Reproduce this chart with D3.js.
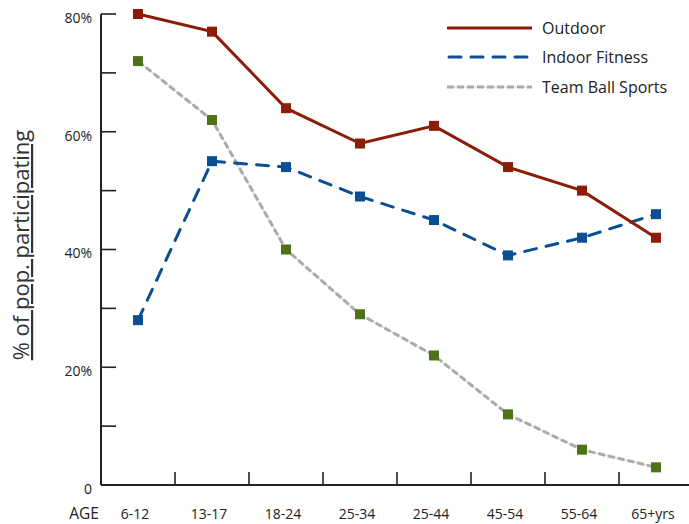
<!DOCTYPE html>
<html>
<head>
<meta charset="utf-8">
<script src="https://cdn.jsdelivr.net/npm/d3@7"></script>
<style>
  body { margin: 0; background: #fff; }
  svg text { font-family: "Open Sans", Lato, sans-serif; fill: #222; }
</style>
</head>
<body>
<div id="chart"></div>
<script>
const ages = ["6-12", "13-17", "18-24", "25-34", "25-44", "45-54", "55-64", "65+yrs"];
const outdoor = [80, 77, 64, 58, 61, 54, 50, 42];
const indoorFitness = [28, 55, 54, 49, 45, 39, 42, 46];
const teamBall = [72, 62, 40, 29, 22, 12, 6, 3];
const yTickLabels = [0, 20, 40, 60, 80];
const seriesNames = ["Outdoor", "Indoor Fitness", "Team Ball Sports"];

const width = 689, height = 524;
const svg = d3.select("#chart").append("svg")
    .attr("width", width)
    .attr("height", height);

// echelles
const x = d3.scaleBand().domain(ages).range([101, 693]);
const y = d3.scaleLinear().domain([0, 80]).range([485, 14]);
const cx = d => x(d) + x.bandwidth() / 2;

// axe Y
const yAxis = svg.append("g").attr("transform", "translate(101,0)");
yAxis.append("line")
    .attr("y1", y(80)).attr("y2", y(0))
    .attr("stroke", "#222").attr("stroke-width", 2);
yAxis.selectAll("line.tick")
    .data(d3.range(0, 81, 10))
    .join("line")
    .attr("class", "tick")
    .attr("x1", 0).attr("x2", 15)
    .attr("y1", d => y(d)).attr("y2", d => y(d))
    .attr("stroke", "#222").attr("stroke-width", 1.6);
yAxis.selectAll("text")
    .data(yTickLabels)
    .join("text")
    .attr("x", -9)
    .attr("y", d => y(d) + 4)
    .attr("dy", "0.35em")
    .attr("text-anchor", "end")
    .style("font-size", "14px")
    .text(d => d === 0 ? "0" : d + "%");

// axe X
const xAxis = svg.append("g");
xAxis.append("line")
    .attr("x1", 101).attr("x2", width)
    .attr("y1", y(0)).attr("y2", y(0))
    .attr("stroke", "#222").attr("stroke-width", 2);
xAxis.selectAll("line.tick")
    .data(ages.slice(1))
    .join("line")
    .attr("class", "tick")
    .attr("x1", d => x(d)).attr("x2", d => x(d))
    .attr("y1", y(0)).attr("y2", y(0) - 13)
    .attr("stroke", "#222").attr("stroke-width", 1.6);
xAxis.selectAll("text")
    .data(ages)
    .join("text")
    .attr("x", d => cx(d) - 3)
    .attr("y", 519)
    .attr("text-anchor", "middle")
    .style("font-size", "14px")
    .text(d => d);
svg.append("text")
    .attr("x", 84).attr("y", 519)
    .attr("text-anchor", "middle")
    .style("font-size", "15.5px")
    .text("AGE");

// titre axe Y
svg.append("text")
    .attr("transform", "translate(29,245) rotate(-90)")
    .attr("text-anchor", "middle")
    .style("font-size", "22px")
    .style("text-decoration", "underline")
    .style("fill", "#333")
    .text("% of pop. participating");

// lignes
const line = d3.line()
    .x((d, i) => cx(ages[i]))
    .y(d => y(d));

// Team Ball Sports
svg.append("path").datum(teamBall)
    .attr("d", line).attr("fill", "none")
    .attr("stroke", "#d8d8d8").attr("stroke-width", 1.2);
svg.append("path").datum(teamBall)
    .attr("d", line).attr("fill", "none")
    .attr("stroke", "#aaaaaa").attr("stroke-width", 3)
    .attr("stroke-dasharray", "7,3");

// Indoor Fitness
svg.append("path").datum(indoorFitness)
    .attr("d", line).attr("fill", "none")
    .attr("stroke", "#0a4f93").attr("stroke-width", 3)
    .attr("stroke-linecap", "round")
    .attr("stroke-dasharray", "12,10");

// Outdoor
svg.append("path").datum(outdoor)
    .attr("d", line).attr("fill", "none")
    .attr("stroke", "#8b1d07").attr("stroke-width", 3);

// marqueurs
function markers(data, color) {
    svg.append("g").selectAll("rect")
        .data(data)
        .join("rect")
        .attr("x", (d, i) => cx(ages[i]) - 5)
        .attr("y", d => y(d) - 5)
        .attr("width", 10).attr("height", 10)
        .attr("fill", color);
}
markers(teamBall, "#4e7217");
markers(indoorFitness, "#0a4f93");
markers(outdoor, "#8b1d07");

// legende
const legend = svg.append("g");
const legY = [28, 57, 87];
legend.append("line")
    .attr("x1", 447).attr("x2", 532).attr("y1", legY[0]).attr("y2", legY[0])
    .attr("stroke", "#8b1d07").attr("stroke-width", 3);
legend.append("line")
    .attr("x1", 449).attr("x2", 532).attr("y1", legY[1]).attr("y2", legY[1])
    .attr("stroke", "#0a4f93").attr("stroke-width", 3)
    .attr("stroke-linecap", "round")
    .attr("stroke-dasharray", "12,10");
legend.append("line")
    .attr("x1", 447).attr("x2", 532).attr("y1", legY[2]).attr("y2", legY[2])
    .attr("stroke", "#d8d8d8").attr("stroke-width", 1.2);
legend.append("line")
    .attr("x1", 447).attr("x2", 532).attr("y1", legY[2]).attr("y2", legY[2])
    .attr("stroke", "#aaaaaa").attr("stroke-width", 3)
    .attr("stroke-dasharray", "7,3");
legend.selectAll("text")
    .data(seriesNames)
    .join("text")
    .attr("x", 542)
    .attr("y", (d, i) => legY[i])
    .attr("dy", "0.35em")
    .style("font-size", "16px")
    .text(d => d);
</script>
</body>
</html>
